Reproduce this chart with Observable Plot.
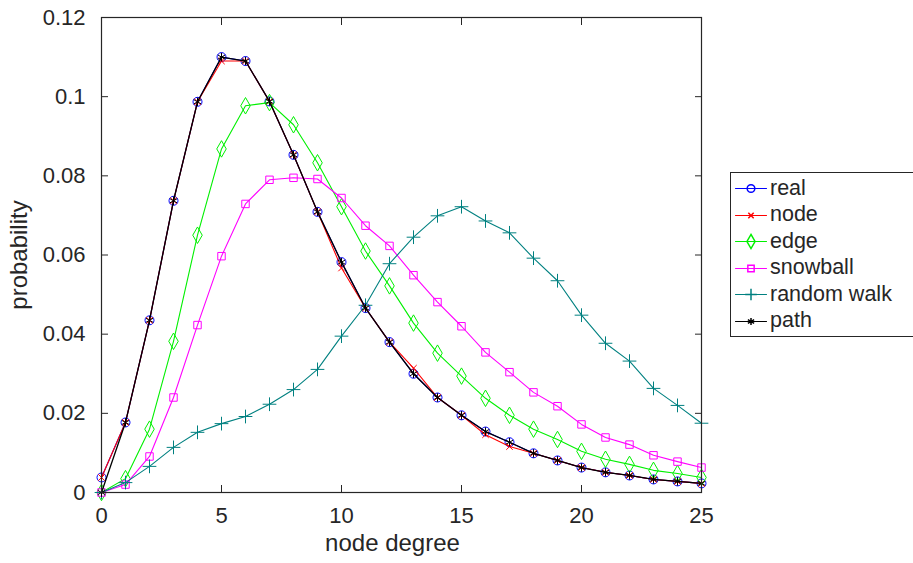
<!DOCTYPE html>
<html>
<head>
<meta charset="utf-8">
<script src="https://cdn.jsdelivr.net/npm/d3@7"></script>
<script src="https://cdn.jsdelivr.net/npm/@observablehq/plot@0.6"></script>
<style>
  html, body { margin: 0; padding: 0; background: #fff; }
  #wrap { position: relative; width: 913px; height: 563px; font-family: "Liberation Sans", Arial, sans-serif; }
  #legend { position: absolute; left: 730px; top: 172px; width: 183px; height: 165px; border: 1px solid #262626; border-right: none; background: #fff; box-sizing: border-box; padding-top: 2px; }
  .item { display: flex; align-items: center; height: 26.5px; font-size: 21.5px; color: #262626; }
  .item svg { margin-left: 4px; margin-right: 4px; }
</style>
</head>
<body>
<div id="wrap"></div>
<script>
const degree = [0,1,2,3,4,5,6,7,8,9,10,11,12,13,14,15,16,17,18,19,20,21,22,23,24,25];
const real = [0.0038,0.0177,0.0435,0.0737,0.0987,0.1100,0.1090,0.0988,0.0853,0.0709,0.0582,0.0466,0.0380,0.0300,0.0240,0.0195,0.0154,0.0127,0.0099,0.0081,0.0063,0.0051,0.0043,0.0033,0.0028,0.0023];
const node = [0.0038,0.0177,0.0435,0.0737,0.0987,0.1090,0.1090,0.0988,0.0853,0.0709,0.0567,0.0466,0.0380,0.0314,0.0240,0.0195,0.0146,0.0116,0.0099,0.0081,0.0063,0.0051,0.0043,0.0033,0.0028,0.0023];
const edge = [0.0000,0.0035,0.0160,0.0382,0.0650,0.0868,0.0977,0.0985,0.0929,0.0833,0.0722,0.0610,0.0522,0.0428,0.0352,0.0294,0.0238,0.0195,0.0160,0.0134,0.0104,0.0084,0.0071,0.0056,0.0048,0.0038];
const snowball = [0.0000,0.0020,0.0091,0.0240,0.0423,0.0597,0.0729,0.0790,0.0795,0.0792,0.0744,0.0674,0.0623,0.0549,0.0481,0.0420,0.0354,0.0304,0.0253,0.0218,0.0172,0.0139,0.0121,0.0094,0.0078,0.0063];
const randomWalk = [0.0000,0.0025,0.0066,0.0114,0.0152,0.0174,0.0192,0.0223,0.0260,0.0311,0.0395,0.0473,0.0578,0.0645,0.0699,0.0722,0.0686,0.0656,0.0592,0.0535,0.0448,0.0377,0.0332,0.0263,0.0220,0.0175];
const path = [0.0000,0.0177,0.0435,0.0737,0.0987,0.1100,0.1090,0.0988,0.0853,0.0709,0.0582,0.0466,0.0380,0.0300,0.0240,0.0195,0.0154,0.0127,0.0099,0.0081,0.0063,0.0051,0.0043,0.0033,0.0028,0.0023];
const xTicks = [0,5,10,15,20,25];
const yTicks = [0,0.02,0.04,0.06,0.08,0.1,0.12];

const series = [
  {name: "real", values: real, color: "#0000ff", symbol: "circle", r: 4.5, fill: "none"},
  {name: "node", values: node, color: "#ff0000", symbol: "times", r: 3, fill: "none"},
  {name: "edge", values: edge, color: "#00f000", symbol: "diamond", r: 5, fill: "none"},
  {name: "snowball", values: snowball, color: "#ff00ff", symbol: "square", r: 4.2, fill: "none"},
  {name: "random walk", values: randomWalk, color: "#008080", symbol: "plus", r: 4.5, fill: "none"},
  {name: "path", values: path, color: "#000000", symbol: "asterisk", r: 4, fill: "none"}
];

const marks = [];
for (const s of series) {
  const data = degree.map((d, i) => ({x: d, y: s.values[i]}));
  marks.push(Plot.line(data, {x: "x", y: "y", stroke: s.color, strokeWidth: s.name === "path" ? 1.3 : 1.1}));
  marks.push(Plot.dot(data, {x: "x", y: "y", stroke: s.color, fill: s.fill, symbol: s.symbol, r: s.r, strokeWidth: 1}));
}

const ink = "#262626";
const blank = () => "";
const chart = Plot.plot({
  width: 913,
  height: 563,
  marginLeft: 101,
  marginRight: 212,
  marginTop: 17,
  marginBottom: 71,
  style: {fontFamily: "Liberation Sans, Arial, sans-serif", fontSize: "22px", color: ink, background: "#fff"},
  x: {domain: [0, 25], ticks: xTicks},
  y: {domain: [0, 0.12], ticks: yTicks},
  marks: [
    ...marks,
    Plot.frame({stroke: ink, strokeWidth: 1.2}),
    Plot.axisX(xTicks, {anchor: "bottom", tickSize: 0, tickPadding: 15, label: null, fontSize: 22, color: ink}),
    Plot.axisX(xTicks, {anchor: "bottom", tickSize: -7, tickFormat: blank, label: null, stroke: ink}),
    Plot.axisX(xTicks, {anchor: "top", tickSize: -7, tickFormat: blank, label: null, stroke: ink}),
    Plot.axisY(yTicks, {anchor: "left", tickSize: 0, tickPadding: 16, label: null, tickFormat: d3.format("~g"), fontSize: 22, color: ink}),
    Plot.axisY(yTicks, {anchor: "left", tickSize: -7, tickFormat: blank, label: null, stroke: ink}),
    Plot.axisY(yTicks, {anchor: "right", tickSize: -7, tickFormat: blank, label: null, stroke: ink}),
    Plot.text(["node degree"], {frameAnchor: "bottom", dy: 58, dx: -9, text: d => d, fontSize: 24, fill: ink, letterSpacing: "1.5px"}),
    Plot.text(["probability"], {frameAnchor: "left", textAnchor: "middle", dx: -82, rotate: -90, text: d => d, fontSize: 24, fill: ink, letterSpacing: "2.5px"})
  ]
});

const wrap = document.getElementById("wrap");
wrap.appendChild(chart);

const legend = document.createElement("div");
legend.id = "legend";
for (const s of series) {
  const item = document.createElement("div");
  item.className = "item";
  const sw = Plot.plot({
    width: 31, height: 20, margin: 0,
    x: {domain: [0, 1], axis: null}, y: {domain: [0, 1], axis: null},
    style: {background: "transparent", overflow: "visible"},
    marks: [
      Plot.line([{x: 0, y: 0.5}, {x: 1, y: 0.5}], {x: "x", y: "y", stroke: s.color, strokeWidth: 1.1}),
      Plot.dot([{x: 0.5, y: 0.5}], {x: "x", y: "y", stroke: s.color, fill: s.fill, symbol: s.symbol, r: s.r * 0.85})
    ]
  });
  item.appendChild(sw);
  const t = document.createElement("span");
  t.textContent = s.name;
  item.appendChild(t);
  legend.appendChild(item);
}
wrap.appendChild(legend);
</script>
</body>
</html>
